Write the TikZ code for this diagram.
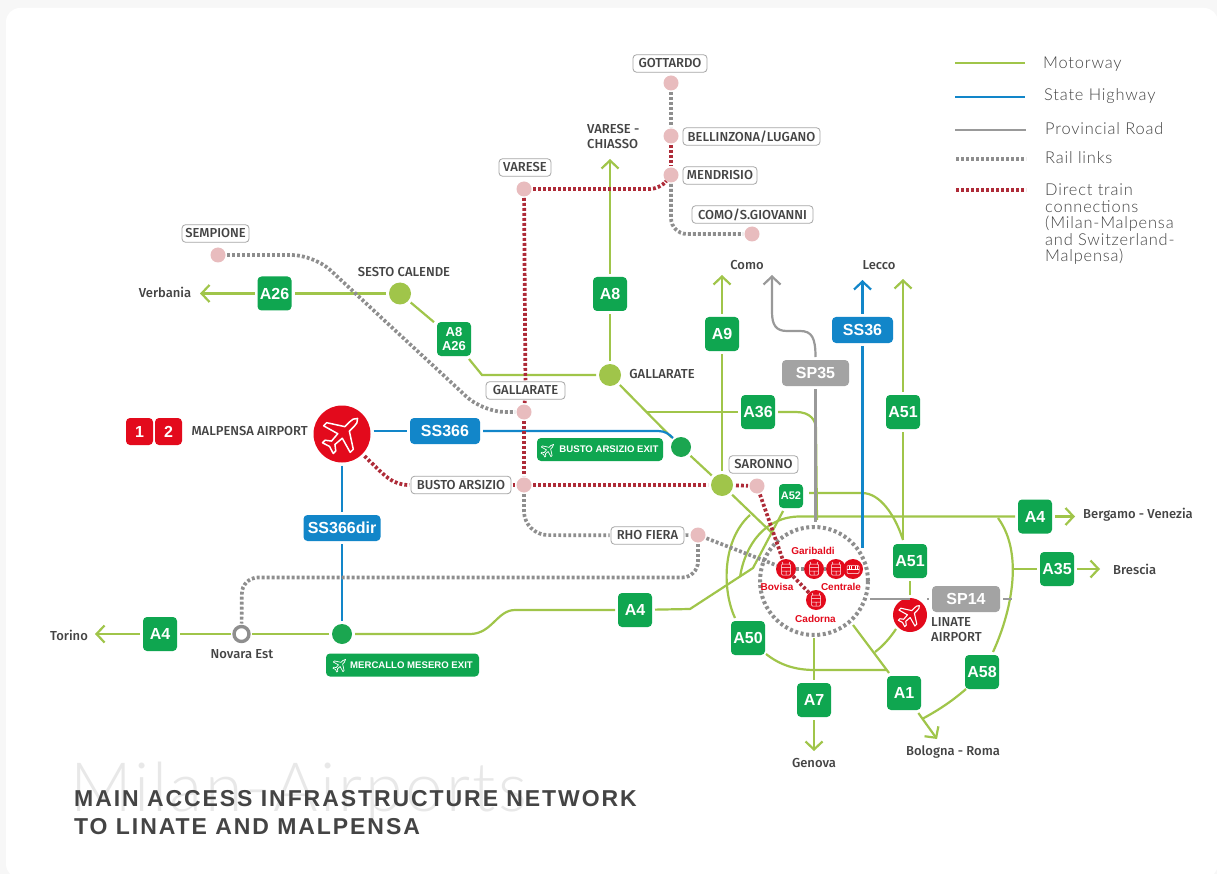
\documentclass[tikz,border=0pt]{standalone}
\usepackage{fontspec}
\setmainfont{Liberation Sans}
\newfontfamily\medf{Fira Sans Medium}
\newfontfamily\lightf[LetterSpace=5]{Lato Light}
\newfontfamily\wmf[LetterSpace=4]{Lato Light}
\newfontfamily\titlef[LetterSpace=8.4]{Liberation Sans Bold}
\usetikzlibrary{arrows.meta}
\definecolor{mwc}{HTML}{A0C54A}
\definecolor{bdg}{HTML}{0FA650}
\definecolor{dkg}{HTML}{1BA650}
\definecolor{shc}{HTML}{1286C9}
\definecolor{prc}{HTML}{999999}
\definecolor{pbg}{HTML}{A3A3A3}
\definecolor{rlc}{HTML}{8E8E8E}
\definecolor{drc}{HTML}{AE2B38}
\definecolor{pnk}{HTML}{E8BCBE}
\definecolor{txc}{HTML}{444444}
\definecolor{redc}{HTML}{E30A1C}
\tikzset{
  x=1pt,y=-1pt,
  mway/.style={draw=mwc,line width=2.2pt},
  shwy/.style={draw=shc,line width=2.2pt},
  prov/.style={draw=prc,line width=2.2pt},
  rail/.style={draw=rlc,line width=3.7pt,dash pattern=on 2.9pt off 2.1pt},
  direct/.style={draw=drc,line width=3.7pt,dash pattern=on 2.9pt off 2.1pt},
  tipbarb/.style={-{Straight Barb[length=8pt,width=17pt,line width=2.2pt]}},
  badge/.style={fill=bdg,rounded corners=4pt,minimum width=34pt,minimum height=34pt,inner sep=0pt,outer sep=3pt,text=white,font=\bfseries\fontsize{16}{16}\selectfont,align=center},
  smallbadge/.style={badge,minimum width=24pt,minimum height=24pt,font=\bfseries\fontsize{11}{11}\selectfont},
  wide/.style={rounded corners=4pt,minimum height=26pt,inner sep=0pt,outer sep=3pt,text=white,font=\bfseries\fontsize{16}{16}\selectfont},
  bluebadge/.style={wide,fill=shc},
  greybadge/.style={wide,fill=pbg},
  redbadge/.style={fill=redc,rounded corners=4pt,minimum width=27pt,minimum height=27pt,inner sep=0pt,text=white,font=\bfseries\fontsize{16}{16}\selectfont},
  exittag/.style={fill=bdg,rounded corners=4pt,minimum height=23pt,inner sep=0pt,text=white,font=\bfseries\fontsize{9.6}{10}\selectfont},
  lbl/.style={draw=black!35,fill=white,line width=.8pt,rounded corners=3.5pt,minimum height=17.5pt,inner sep=0pt,outer sep=1.5pt,text=txc,font=\medf\fontsize{13}{13}\selectfont},
  stn/.style={circle,fill=pnk,minimum size=15pt,inner sep=0pt,outer sep=1.5pt},
  jctl/.style={circle,fill=mwc,minimum size=22pt,inner sep=0pt,outer sep=3pt},
  jctd/.style={circle,fill=dkg,minimum size=20pt,inner sep=0pt,outer sep=3pt},
  redst/.style={circle,fill=redc,minimum size=20pt,inner sep=0pt,outer sep=0pt},
  txt/.style={inner sep=0pt,text=txc,font=\medf\fontsize{13}{14.5}\selectfont,align=left},
  redtxt/.style={inner sep=0pt,text=redc,font=\bfseries\fontsize{10}{11}\selectfont},
  legend/.style={inner sep=0pt,text=txc,font=\lightf\fontsize{16.4}{16.5}\selectfont,align=left,anchor=west},
}
\newcommand{\planeicon}[4]{%
  \begin{scope}[shift={(#1)},x=1pt,y=1pt,rotate=-45,scale=#2]
    \draw[draw=#4,line width=#3,line join=round,fill=none]
      (0,11) .. controls (1.4,10) and (1.6,8.5) .. (1.6,7) -- (1.6,3.6) -- (9.4,-1.4) -- (9.4,-3.6) -- (1.6,-1.4) -- (1.2,-6.2) -- (3.8,-8.2) -- (3.8,-10) -- (0,-8.8)
      -- (-3.8,-10) -- (-3.8,-8.2) -- (-1.2,-6.2) -- (-1.6,-1.4) -- (-9.4,-3.6) -- (-9.4,-1.4) -- (-1.6,3.6) -- (-1.6,7) .. controls (-1.6,8.5) and (-1.4,10) .. (0,11) -- cycle;
  \end{scope}}
\newcommand{\trainicon}[1]{%
  \begin{scope}[shift={(#1)},x=1pt,y=1pt]
    \draw[white,line width=.5pt,rounded corners=1pt] (-4.5,5) rectangle (4.5,-6);
    \draw[white,line width=.5pt] (-4.5,-2) -- (4.5,-2) (-4.5,1.5) -- (4.5,1.5) (0,-6) -- (0,-2) (-3,5) -- (-4,7) (3,5) -- (4,7);
  \end{scope}}
\newcommand{\busicon}[1]{%
  \begin{scope}[shift={(#1)},x=1pt,y=1pt]
    \draw[white,line width=.5pt,rounded corners=1pt] (-6,3.5) rectangle (6,-4.5);
    \draw[white,line width=.5pt] (-6,-.5) -- (6,-.5) (-4,-.5) -- (-4,3.5) (4,-.5) -- (4,3.5) (-2,-.5) -- (-2,3.5) (2,-.5) -- (2,3.5);
  \end{scope}}
\begin{document}
\begin{tikzpicture}
\useasboundingbox (0,0) rectangle (1217,874);
\fill[black!3] (0,0) rectangle (1217,874);
\fill[white,rounded corners=14pt] (6,8) rectangle (1218,878);

% watermark + title
\node[inner sep=0pt,anchor=base west,text=black!9,font=\wmf\fontsize{68}{68}\selectfont] (wm) at (70,811) {Milan-Airports};
\node[inner sep=0pt,anchor=base west,text=txc,font=\titlef\fontsize{23}{23}\selectfont] (t1) at (74,806) {MAIN ACCESS INFRASTRUCTURE NETWORK};
\node[inner sep=0pt,anchor=base west,text=txc,font=\titlef\fontsize{23}{23}\selectfont] (t2) at (74,834) {TO LINATE AND MALPENSA};

% legend
\coordinate (la1) at (955,63); \coordinate (lb1) at (1025,63);
\coordinate (la2) at (955,97); \coordinate (lb2) at (1025,97);
\coordinate (la3) at (955,130); \coordinate (lb3) at (1026,130);
\coordinate (la4) at (956,159); \coordinate (lb4) at (1026,159);
\coordinate (la5) at (956,190); \coordinate (lb5) at (1026,190);
\draw[mway] (la1) -- (lb1);
\draw[shwy] (la2) -- (lb2);
\draw[prov] (la3) -- (lb3);
\draw[rail] (la4) -- (lb4);
\draw[direct] (la5) -- (lb5);
\node[legend] (l1) at (1043,64) {Motorway};
\node[legend] (l2) at (1044,96) {State Highway};
\node[legend] (l3) at (1045,128.5) {Provincial Road};
\node[legend] (l4) at (1045,158) {Rail links};
\node[legend,anchor=north west] (l5) at (1045,184) {Direct train\\connections\\(Milan-Malpensa\\and Switzerland-\\Malpensa)};

% stations (pink)
\node[stn] (gott) at (671,83) {};
\node[stn] (bell) at (671,136) {};
\node[stn] (mend) at (671,175) {};
\node[stn] (como) at (752,234) {};
\node[stn] (vare) at (524,189) {};
\node[stn] (semp) at (218,255) {};
\node[stn] (galst) at (524,412) {};
\node[stn] (bust) at (524,485) {};
\node[stn] (rhof) at (698,535) {};
\node[stn] (sarst) at (757,486) {};

% station labels
\node[lbl,minimum width=74pt] (lgott) at (670,63.5) {GOTTARDO};
\node[lbl,minimum width=137pt] (lbell) at (751.5,136.5) {BELLINZONA/LUGANO};
\node[lbl,minimum width=74pt] (lmend) at (720,175.5) {MENDRISIO};
\node[lbl,minimum width=121pt] (lcomo) at (752.5,214.5) {COMO/S.GIOVANNI};
\node[lbl,minimum width=52pt] (lvare) at (525,167.5) {VARESE};
\node[lbl,minimum width=67pt] (lsemp) at (215.5,233.5) {SEMPIONE};
\node[lbl,minimum width=79pt] (lgal) at (525.5,390.5) {GALLARATE};
\node[lbl,minimum width=100pt] (lbus) at (461,485) {BUSTO ARSIZIO};
\node[lbl,minimum width=69pt] (lsar) at (763.5,464.5) {SARONNO};
\node[lbl,minimum width=73pt] (lrho) at (647.5,535.5) {RHO FIERA};

% junctions
\node[jctl] (jses) at (400,293.5) {};
\node[jctl] (jgal) at (610,375) {};
\node[jctl] (jsar) at (722,485) {};
\node[jctd] (jbus) at (681,447) {};
\node[jctd] (jmer) at (342,634) {};
\node[circle,draw=rlc,fill=white,line width=3.4pt,minimum size=15pt,inner sep=0pt,outer sep=3pt] (nova) at (241.5,634) {};

% badges
\node[badge] (a26) at (274.5,293.5) {A26};
\node[badge,font=\bfseries\fontsize{13}{13.5}\selectfont] (a826) at (454,339) {A8\\A26};
\node[badge] (a8) at (610,294) {A8};
\node[badge] (a9) at (722,334) {A9};
\node[badge] (a36) at (758,412) {A36};
\node[badge] (a51t) at (903,412) {A51};
\node[smallbadge] (a52) at (791,496) {A52};
\node[badge] (a51l) at (910,561) {A51};
\node[badge] (a4r) at (1035,516.5) {A4};
\node[badge] (a35) at (1057,569) {A35};
\node[badge] (a58) at (982,672) {A58};
\node[badge] (a1) at (904,693) {A1};
\node[badge] (a7) at (814,700) {A7};
\node[badge] (a50) at (748,638) {A50};
\node[badge] (a4m) at (635,610) {A4};
\node[badge] (a4l) at (160,634) {A4};
\node[bluebadge,minimum width=70pt] (ss366) at (445,431) {SS366};
\node[bluebadge,minimum width=77pt] (ssdir) at (342,528) {SS366dir};
\node[bluebadge,minimum width=61pt] (ss36) at (862.5,330) {SS36};
\node[greybadge,minimum width=67pt] (sp35) at (815.5,373) {SP35};
\node[greybadge,minimum width=68pt] (sp14) at (966,599) {SP14};
\node[redbadge] (r1) at (139.5,431.5) {1};
\node[redbadge] (r2) at (168.5,431.5) {2};
\node[exittag,minimum width=126pt] (xbus) at (600,449.5) {\hspace*{18pt}BUSTO ARSIZIO EXIT};
\node[exittag,minimum width=153pt] (xmer) at (402.5,665) {\hspace*{18pt}MERCALLO MESERO EXIT};

% airports
\node[circle,fill=redc,minimum size=57pt,inner sep=0pt,outer sep=3pt] (mxp) at (342,434) {};
\node[circle,fill=redc,minimum size=34pt,inner sep=0pt,outer sep=3pt] (lin) at (910,615) {};

% central ring and stations
\node[circle,draw=rlc,line width=4pt,dash pattern=on 3pt off 2.6pt,minimum size=108pt,inner sep=0pt,outer sep=3pt] (ring) at (814,581) {};
\node[redst] (bov) at (786,569) {};
\node[redst] (gar) at (814,569) {};
\node[redst] (cen) at (836,569) {};
\node[redst] (bus) at (853,569) {};
\node[redst] (cad) at (816,600) {};

% text labels
\node[txt] (tses) at (404,272) {SESTO CALENDE};
\node[txt] (tgal) at (662,374.5) {GALLARATE};
\node[txt,anchor=north west] (tvc) at (587,124.5) {VARESE -\\CHIASSO};
\node[txt] (tcom) at (747,265) {Como};
\node[txt] (tlec) at (879,265) {Lecco};
\node[txt] (tver) at (165,292) {Verbania};
\node[txt] (ttor) at (69,635) {Torino};
\node[txt] (tnov) at (242,654) {Novara Est};
\node[txt,anchor=east] (tmxp) at (308,431.5) {MALPENSA AIRPORT};
\node[txt,anchor=north west] (tlin) at (931,617.5) {LINATE\\AIRPORT};
\node[txt] (tbol) at (953,752) {Bologna - Roma};
\node[txt] (tgen) at (814,763) {Genova};
\node[txt,anchor=west] (tbre) at (1113,569) {Brescia};
\node[txt,anchor=west] (tber) at (1083,515) {Bergamo - Venezia};
\node[redtxt] (tgar) at (813,551) {Garibaldi};
\node[redtxt] (tbov) at (777,586.5) {Bovisa};
\node[redtxt] (tcen) at (841,587) {Centrale};
\node[redtxt] (tcad) at (815.5,619) {Cadorna};

% free ends
\coordinate (verb) at (200,293.5);
\coordinate (w826) at (482,375);
\coordinate (vch) at (610,159);
\coordinate (comoe) at (722,275);
\coordinate (d1) at (772,533);
\coordinate (a36l) at (647,412);
\coordinate (a36c) at (816,432);
\coordinate (a36d) at (817,520);
\coordinate (lecco) at (903,279);
\coordinate (a51k) at (903,540);
\coordinate (a52r) at (862,493);
\coordinate (a4w) at (800,516.5);
\coordinate (a4e) at (740,577);
\coordinate (a4j) at (753,568);
\coordinate (a4k) at (690,609);
\coordinate (a50t) at (735,618);
\coordinate (a50e) at (750,515);
\coordinate (a50b) at (766,654);
\coordinate (a50m) at (815,670);
\coordinate (a50f) at (886,670);
\coordinate (diag) at (853,625);
\coordinate (linb) at (896,629);
\coordinate (line) at (875,652);
\coordinate (a1tip) at (937,739);
\coordinate (a58e) at (922,719);
\coordinate (a58s) at (966,689);
\coordinate (a58t) at (993,652);
\coordinate (a58u) at (998,518);
\coordinate (a35j) at (1012,569);
\coordinate (brtip) at (1100,569);
\coordinate (bgtip) at (1075,516.5);
\coordinate (gentip) at (814,751);
\coordinate (a4c) at (515,610);
\coordinate (a4d) at (470,634);
\coordinate (tortip) at (95,634);
\coordinate (ssb) at (658,431);
\coordinate (sse) at (673,438);
\coordinate (s36d) at (862.5,548);
\coordinate (s36u) at (862.5,280);
\coordinate (sp35a) at (772,275);
\coordinate (sp35d) at (815.5,522);
\coordinate (sp14l) at (870,599);
\coordinate (sp14r) at (1012,599);
\coordinate (sw1) at (314,255);
\coordinate (sw2) at (483,412);
\coordinate (cw1) at (671,234);
\coordinate (rw1) at (524,535);
\coordinate (rw2) at (698,577.5);
\coordinate (rw3) at (242,577.5);
\coordinate (vw1) at (660,189);

% motorways
\draw[mway,tipbarb] (a26) -- (verb);
\draw[mway] (jses) -- (a26);
\draw[mway] (jses) -- (a826);
\draw[mway] (a826.south east) ++(-5,0) -- (w826) -- (jgal);
\draw[mway] (jgal) -- (a8);
\draw[mway,tipbarb] (a8) -- (vch);
\draw[mway] (jgal) -- (jbus);
\draw[mway] (jbus) -- (jsar);
\draw[mway] (jsar) -- (d1);
\draw[mway] (jsar) -- (a9);
\draw[mway,tipbarb] (a9) -- (comoe);
\draw[mway] (a36l) -- (a36);
\draw[mway] (a36) -- (796,412) .. controls (810,412) and (817,420) .. (a36c) -- (a36d);
\draw[mway,tipbarb] (a51t) -- (lecco);
\draw[mway] (a51t) -- (a51k);
\draw[mway] (a52.east) ++(3,-3) -- (a52r) .. controls (880,493) and (895,515) .. (a51k);
\draw[mway] (a4m) -- (a4k) -- (a4j) -- (a52);
\draw[mway] (a4r) -- (a4w) .. controls (765,516.5) and (745,545) .. (a4e);
\draw[mway] (a50t) .. controls (722,590) and (722,540) .. (a50e);
\draw[mway] (a50b) .. controls (780,665) and (795,670) .. (a50m) -- (a50f);
\draw[mway] (diag) -- (a1);
\draw[mway] (linb) .. controls (890,638) and (883,646) .. (line);
\draw[mway] (a51l) -- (lin);
\draw[mway] (ring) -- (a7);
\draw[mway,tipbarb] (a7) -- (gentip);
\draw[mway,tipbarb] (a1) -- (a1tip);
\draw[mway] (a58s) .. controls (950,703) and (935,712) .. (a58e);
\draw[mway] (a58t) .. controls (1010,615) and (1025,555) .. (a58u);
\draw[mway] (a35j) -- (a35);
\draw[mway,tipbarb] (a35) -- (brtip);
\draw[mway,tipbarb] (a4r) -- (bgtip);
\draw[mway] (a4m) -- (a4c) .. controls (497,610) and (492,634) .. (a4d) -- (jmer);
\draw[mway] (jmer) -- (nova);
\draw[mway] (nova) -- (a4l);
\draw[mway,tipbarb] (a4l) -- (tortip);

% state highways
\draw[shwy] (mxp.east |- ss366) -- (ss366);
\draw[shwy] (ss366) -- (ssb) .. controls (665,431) and (669,434) .. (sse);
\draw[shwy] (mxp) -- (ssdir);
\draw[shwy] (ssdir) -- (jmer);
\draw[shwy,-{Straight Barb[length=8pt,width=17pt,line width=2.2pt]}] (ss36) -- (s36u);
\draw[shwy] (ss36) -- (s36d);

% provincial roads
\draw[prov,tipbarb] (sp35.north) .. controls (815.5,338) and (812,331) .. (800,331) -- (787,331) .. controls (776,331) and (772,325) .. (772,312) -- (sp35a);
\draw[prov] (sp35) -- (sp35d);
\draw[prov] (sp14l) -- (lin.center |- sp14l);
\draw[prov] (lin.center |- sp14l) ++(17,0) -- (sp14);
\draw[prov] (sp14) -- (sp14r);

% rail links
\draw[rail] (gott) -- (bell);
\draw[rail,rounded corners=16pt] (mend) -- (cw1) -- (como);
\draw[rail,rounded corners=22pt] (semp) -- (sw1) -- (sw2) -- (galst);
\draw[rail,rounded corners=24pt] (bust) -- (rw1) -- (lrho);
\draw[rail] (lrho) -- (rhof);
\draw[rail,rounded corners=16pt] (rhof) -- (rw2) -- (rw3) -- (nova);
\draw[rail] (rhof) -- (bov);
\draw[rail] (bov) -- (gar);
\draw[rail] (gar) -- (cen);

% direct trains
\draw[direct] (bell) -- (mend);
\draw[direct,rounded corners=10pt] (vare) -- (vw1) -- (mend);
\draw[direct] (vare) -- (lgal);
\draw[direct] (lgal) -- (galst);
\draw[direct] (galst) -- (bust);
\draw[direct] (mxp) .. controls (385,476) and (392,485) .. (lbus);
\draw[direct] (lbus) -- (bust);
\draw[direct] (bust) -- (jsar);
\draw[direct] (jsar) -- (sarst);
\draw[direct] (sarst) -- (bov);
\draw[direct] (bov) -- (cad);

% icons
\planeicon{mxp.center}{2.0}{1.5pt}{white}
\planeicon{lin.center}{1.2}{1.1pt}{white}
\planeicon{548,450}{.72}{.7pt}{white}
\planeicon{340,665}{.72}{.7pt}{white}
\trainicon{bov.center}
\trainicon{gar.center}
\trainicon{cen.center}
\busicon{bus.center}
\trainicon{cad.center}
\end{tikzpicture}
\end{document}
